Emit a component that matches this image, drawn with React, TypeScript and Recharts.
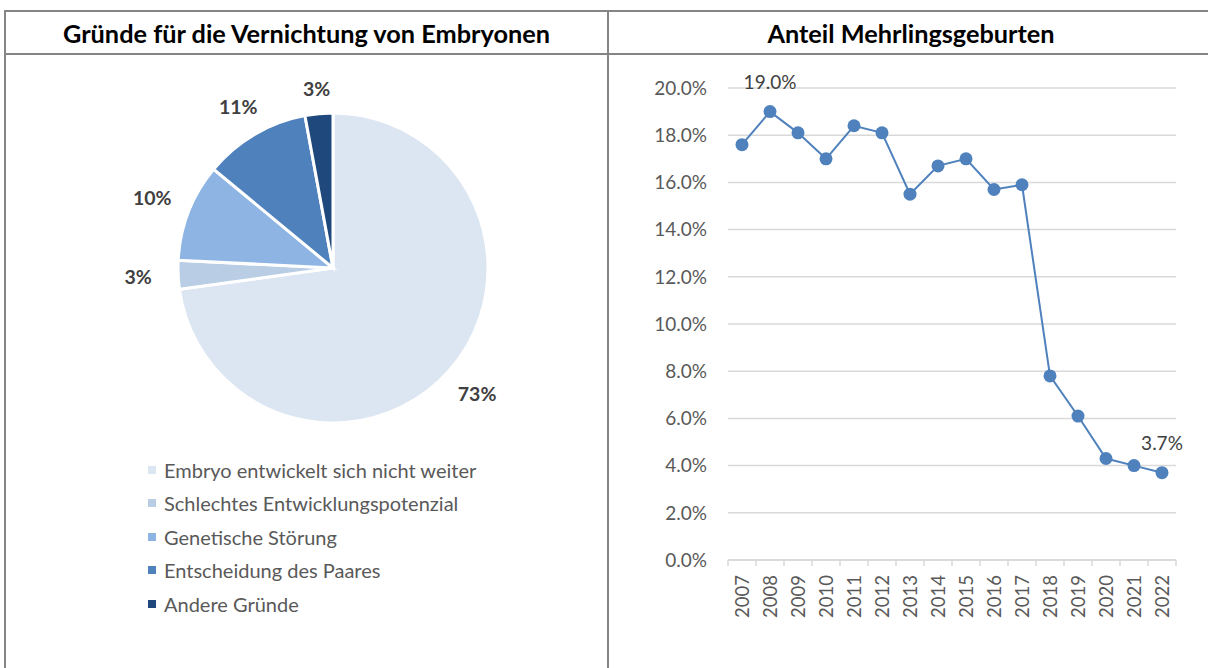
import React from 'react';
import {
  PieChart, Pie, Cell, Legend,
  LineChart, Line, XAxis, YAxis, CartesianGrid, LabelList,
} from 'recharts';

// left panel: reasons for discarding embryos
const reasons = [
  'Embryo entwickelt sich nicht weiter',
  'Schlechtes Entwicklungspotenzial',
  'Genetische Störung',
  'Entscheidung des Paares',
  'Andere Gründe',
];
const reasonShares = [72.8, 3.0, 10.2, 11.1, 2.9];
const reasonColors = ['#dce6f2', '#b9cde5', '#8eb4e3', '#4f81bd', '#1f497d'];

// right panel: share of multiple births
const years = [
  '2007', '2008', '2009', '2010', '2011', '2012', '2013', '2014',
  '2015', '2016', '2017', '2018', '2019', '2020', '2021', '2022',
];
const multipleBirthShare = [
  17.6, 19.0, 18.1, 17.0, 18.4, 18.1, 15.5, 16.7,
  17.0, 15.7, 15.9, 7.8, 6.1, 4.3, 4.0, 3.7,
];
const labeledYears = ['2008', '2022'];
const yTicks = [0, 2, 4, 6, 8, 10, 12, 14, 16, 18, 20];

const pieData = reasons.map((name, i) => ({ name, value: reasonShares[i] }));
const lineData = years.map((year, i) => ({ year, share: multipleBirthShare[i] }));

const FONT = 'Lato, "Open Sans", sans-serif';
const BORDER = '#858585';
const RAD = Math.PI / 180;

const renderPieLabel = (props: any) => {
  const { cx, cy, midAngle, outerRadius, percent } = props;
  const c = Math.cos(-midAngle * RAD);
  const s = Math.sin(-midAngle * RAD);
  const r = outerRadius + 24 + 16 * Math.abs(c);
  return (
    <text
      x={cx + r * c}
      y={cy + r * s}
      textAnchor="middle"
      dominantBaseline="central"
      fill="#404040"
      fontSize={19.5}
      fontWeight={700}
      fontFamily={FONT}
    >
      {`${Math.round(percent * 100)}%`}
    </text>
  );
};

// keep the legend in data order (recharts would sort it by name)
const renderLegend = (props: any) => {
  const items = [...(props.payload || [])].sort(
    (a: any, b: any) => reasons.indexOf(a.value) - reasons.indexOf(b.value),
  );
  return (
    <div style={{ fontFamily: FONT, fontSize: 20, color: '#595959' }}>
      {items.map((entry: any, i: number) => (
        <div key={`leg-${i}`} style={{ display: 'flex', alignItems: 'center', height: 33.5 }}>
          <span style={{ width: 8, height: 8, background: entry.color, marginRight: 8, flex: 'none' }} />
          <span>{entry.value}</span>
        </div>
      ))}
    </div>
  );
};

const YearTick = (props: any) => {
  const { x, y, payload, index, width, visibleTicksCount } = props;
  const half = width / visibleTicksCount / 2;
  return (
    <g>
      <line x1={x - half} y1={y} x2={x - half} y2={y + 6} stroke="#d9d9d9" strokeWidth={1.5} />
      {index === visibleTicksCount - 1 && (
        <line x1={x + half} y1={y} x2={x + half} y2={y + 6} stroke="#d9d9d9" strokeWidth={1.5} />
      )}
      <text
        transform={`translate(${x},${y + 15}) rotate(-90)`}
        textAnchor="end"
        dominantBaseline="central"
        fill="#595959"
        fontSize={18.5}
        fontFamily={FONT}
      >
        {payload.value}
      </text>
    </g>
  );
};

const renderPointLabel = (props: any) => {
  const { x, y, index, value } = props;
  if (!labeledYears.includes(years[index])) return null;
  return (
    <text
      x={x}
      y={y - 30}
      textAnchor="middle"
      dominantBaseline="central"
      fill="#404040"
      fontSize={19}
      fontFamily={FONT}
    >
      {`${Number(value).toFixed(1)}%`}
    </text>
  );
};

const titleStyle: React.CSSProperties = {
  position: 'absolute',
  top: 12,
  height: 41,
  display: 'flex',
  alignItems: 'center',
  justifyContent: 'center',
  fontFamily: FONT,
  fontWeight: 700,
  fontSize: 25.3,
  color: '#000',
};

export default function App() {
  return (
    <div style={{ position: 'absolute', left: 0, top: 0, width: 1208, height: 668, background: '#fff', overflow: 'hidden' }}>
      {/* table lines */}
      <div style={{ position: 'absolute', left: 4, top: 10, width: 1210, height: 2, background: BORDER }} />
      <div style={{ position: 'absolute', left: 4, top: 53, width: 1210, height: 2, background: BORDER }} />
      <div style={{ position: 'absolute', left: 4, top: 10, width: 2, height: 660, background: BORDER }} />
      <div style={{ position: 'absolute', left: 607, top: 10, width: 2, height: 660, background: BORDER }} />

      <div style={{ ...titleStyle, left: 6, width: 601 }}>Gründe für die Vernichtung von Embryonen</div>
      <div style={{ ...titleStyle, left: 609, width: 604 }}>Anteil Mehrlingsgeburten</div>

      <div style={{ position: 'absolute', left: 5, top: 55 }}>
        <PieChart width={602} height={613} margin={{ top: 0, right: 0, bottom: 0, left: 0 }}>
          <Pie
            data={pieData}
            dataKey="value"
            nameKey="name"
            cx={328}
            cy={213}
            outerRadius={155}
            startAngle={90}
            endAngle={-270}
            stroke="#fff"
            strokeWidth={3}
            label={renderPieLabel}
            labelLine={false}
            isAnimationActive={false}
          >
            {pieData.map((entry, i) => (
              <Cell key={`cell-${i}`} fill={reasonColors[i]} />
            ))}
          </Pie>
          <Legend
            content={renderLegend}
            wrapperStyle={{ left: 143, top: 398, width: 440, bottom: 'auto' }}
          />
        </PieChart>
      </div>

      <div style={{ position: 'absolute', left: 610, top: 55 }}>
        <LineChart
          width={598}
          height={613}
          data={lineData}
          margin={{ top: 33, right: 32, bottom: 48, left: 0 }}
        >
          <CartesianGrid vertical={false} stroke="#d9d9d9" strokeWidth={1.5} />
          <XAxis
            dataKey="year"
            height={60}
            padding={{ left: 14, right: 14 }}
            interval={0}
            axisLine={{ stroke: '#d9d9d9', strokeWidth: 1.5 }}
            tickLine={false}
            tickSize={0}
            tickMargin={0}
            tick={<YearTick />}
          />
          <YAxis
            width={118}
            domain={[0, 20]}
            ticks={yTicks}
            interval={0}
            axisLine={false}
            tickLine={false}
            tickSize={0}
            tickMargin={21}
            tickFormatter={(v: number) => `${v.toFixed(1)}%`}
            tick={{ fill: '#595959', fontSize: 19, fontFamily: FONT }}
          />
          <Line
            dataKey="share"
            stroke="#4f81bd"
            strokeWidth={2}
            dot={{ r: 6.5, fill: '#4f81bd', stroke: 'none' }}
            activeDot={false}
            isAnimationActive={false}
          >
            <LabelList dataKey="share" content={renderPointLabel} />
          </Line>
        </LineChart>
      </div>
    </div>
  );
}
